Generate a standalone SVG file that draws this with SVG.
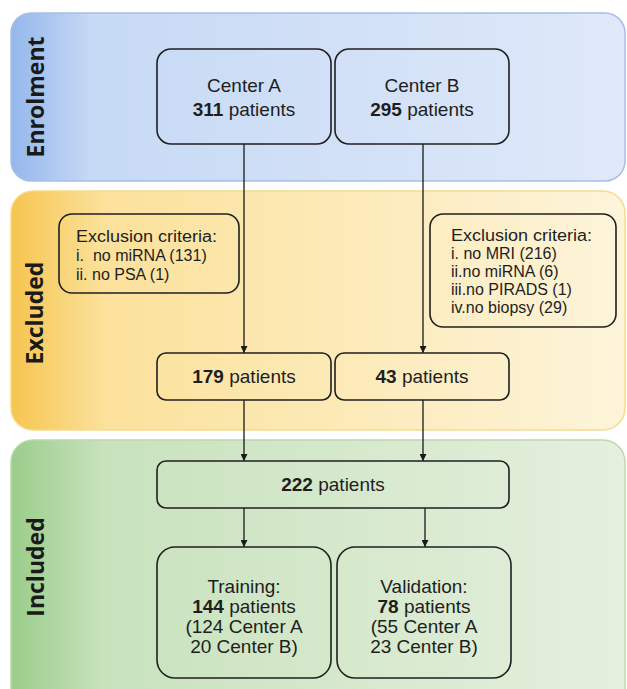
<svg xmlns="http://www.w3.org/2000/svg" width="627" height="689" viewBox="0 0 627 689">
<defs>
<linearGradient id="gBlue" x1="0" y1="0" x2="1" y2="0">
<stop offset="0" stop-color="#94b7ec"/><stop offset="0.13" stop-color="#c6d9f5"/><stop offset="1" stop-color="#dfe9f9"/>
</linearGradient>
<linearGradient id="gYellow" x1="0" y1="0" x2="1" y2="0">
<stop offset="0" stop-color="#f6c550"/><stop offset="0.15" stop-color="#fbe19b"/><stop offset="1" stop-color="#fdf4da"/>
</linearGradient>
<linearGradient id="gGreen" x1="0" y1="0" x2="1" y2="0">
<stop offset="0" stop-color="#9acd8a"/><stop offset="0.15" stop-color="#c8e2bd"/><stop offset="1" stop-color="#e5f0de"/>
</linearGradient>
<marker id="arr" viewBox="0 0 10 10" refX="10" refY="5" markerWidth="7" markerHeight="7" markerUnits="userSpaceOnUse" orient="auto">
<path d="M0,0 L10,5 L0,10 Z" fill="#1a1a1a"/>
</marker>
<style>
.band{stroke-width:1.5}
.node{fill:none;stroke:#1f1f1f;stroke-width:1.6}
.t{font-family:"Liberation Sans",Arial,sans-serif;font-size:19px;fill:#1e1e1e;text-anchor:middle}
.s{font-family:"Liberation Sans",Arial,sans-serif;font-size:16px;fill:#1e1e1e}
.b{font-weight:bold}
.lab{font-family:"Open Sans","DejaVu Sans",sans-serif;font-size:23px;font-weight:bold;fill:#1a1a1a;text-anchor:middle}
.edge{stroke:#1a1a1a;stroke-width:1.3;fill:none;marker-end:url(#arr)}
.line{stroke:#1a1a1a;stroke-width:1.3;fill:none}
</style>
</defs>

<g id="band-enrolment">
<rect x="11" y="13" width="614" height="168" rx="20" fill="url(#gBlue)" stroke="#a6bfe3" class="band"/>
<text class="lab" transform="translate(44,97) rotate(-90)">Enrolment</text>
</g>
<g id="band-excluded">
<rect x="11" y="191" width="614" height="239" rx="22" fill="url(#gYellow)" stroke="#f5dc90" class="band"/>
<text class="lab" transform="translate(43,313) rotate(-90)">Excluded</text>
</g>
<g id="band-included">
<rect x="11" y="440" width="614" height="270" rx="22" fill="url(#gGreen)" stroke="#bcd9ad" class="band"/>
<text class="lab" transform="translate(44,567) rotate(-90)">Included</text>
</g>

<g id="connectors">
<line class="line" x1="244" y1="144" x2="244" y2="213"/>
<line class="line" x1="423" y1="144" x2="423" y2="213"/>
<line class="edge" x1="244" y1="213" x2="244" y2="353"/>
<line class="edge" x1="423" y1="213" x2="423" y2="353"/>
<line class="edge" x1="244" y1="400" x2="244" y2="461"/>
<line class="edge" x1="423" y1="400" x2="423" y2="461"/>
<line class="edge" x1="244" y1="508" x2="244" y2="547"/>
<line class="edge" x1="425" y1="508" x2="425" y2="547"/>
</g>

<g id="center-a">
<rect class="node" x="157" y="49" width="174" height="95" rx="14"/>
<text class="t" x="244" y="92">Center A</text>
<text class="t" x="244" y="116"><tspan class="b">311</tspan> patients</text>
</g>
<g id="center-b">
<rect class="node" x="335" y="49" width="174" height="95" rx="14"/>
<text class="t" x="422" y="92">Center B</text>
<text class="t" x="422" y="116"><tspan class="b">295</tspan> patients</text>
</g>

<g id="excl-a">
<rect class="node" x="59" y="214" width="180" height="79" rx="13"/>
<text class="s" x="76" y="242" textLength="141" lengthAdjust="spacingAndGlyphs">Exclusion criteria:</text>
<text class="s" x="76" y="261" xml:space="preserve">i.  no miRNA (131)</text>
<text class="s" x="76" y="280">ii. no PSA (1)</text>
</g>
<g id="excl-b">
<rect class="node" x="430" y="214" width="186" height="113" rx="13"/>
<text class="s" x="451" y="241" textLength="141" lengthAdjust="spacingAndGlyphs">Exclusion criteria:</text>
<text class="s" x="451" y="259">i. no MRI (216)</text>
<text class="s" x="451" y="277">ii.no miRNA (6)</text>
<text class="s" x="451" y="295">iii.no PIRADS (1)</text>
<text class="s" x="451" y="313">iv.no biopsy (29)</text>
</g>

<g id="n179">
<rect class="node" x="157" y="353" width="174" height="47" rx="9"/>
<text class="t" x="244" y="383"><tspan class="b">179</tspan> patients</text>
</g>
<g id="n43">
<rect class="node" x="335" y="353" width="174" height="47" rx="9"/>
<text class="t" x="422" y="383"><tspan class="b">43</tspan> patients</text>
</g>

<g id="n222">
<rect class="node" x="157" y="461" width="352" height="47" rx="9"/>
<text class="t" x="333" y="491"><tspan class="b">222</tspan> patients</text>
</g>

<g id="training">
<rect class="node" x="157" y="547" width="174" height="131" rx="18"/>
<text class="t" x="244" y="593">Training:</text>
<text class="t" x="244" y="613"><tspan class="b">144</tspan> patients</text>
<text class="t" x="244" y="633">(124 Center A</text>
<text class="t" x="244" y="653">20 Center B)</text>
</g>
<g id="validation">
<rect class="node" x="337" y="547" width="174" height="131" rx="18"/>
<text class="t" x="424" y="593">Validation:</text>
<text class="t" x="424" y="613"><tspan class="b">78</tspan> patients</text>
<text class="t" x="424" y="633">(55 Center A</text>
<text class="t" x="424" y="653">23 Center B)</text>
</g>
</svg>
